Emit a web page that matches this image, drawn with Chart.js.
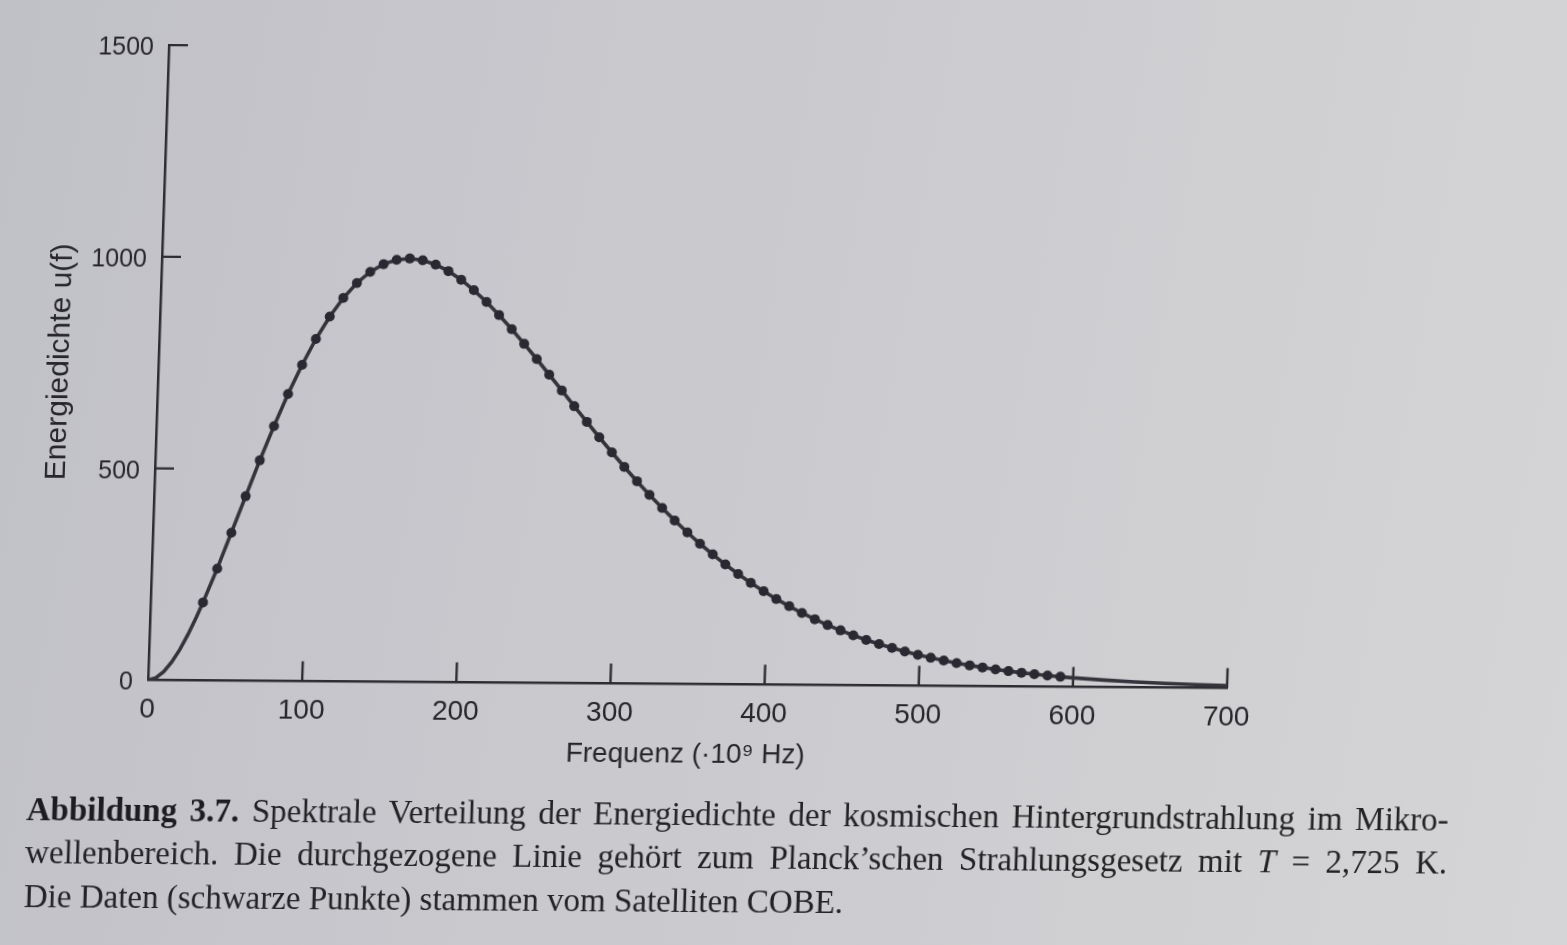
<!DOCTYPE html>
<html>
<head>
<meta charset="utf-8">
<script src="https://cdn.jsdelivr.net/npm/chart.js@4.4.1/dist/chart.umd.min.js"></script>
<style>
html,body{margin:0;padding:0;width:1567px;height:945px;overflow:hidden;
  background:linear-gradient(100deg,#c0c0c7 0%,#c8c8cd 35%,#d0cfd2 75%,#d5d4d6 100%);}
#page{position:absolute;left:0;top:0;width:1567px;height:945px;
  transform-origin:148px 680.4px;transform:matrix(1,0.0074,-0.033,1,0,0);}
#chartBox{position:absolute;left:0;top:0;width:1567px;height:790px;}
#caption{position:absolute;left:31px;top:788.7px;width:1422px;
  font-family:'Liberation Serif','Times New Roman',serif;font-size:33px;line-height:43.5px;color:#232326;}
#caption .just{text-align:justify;text-align-last:justify;}
#caption b{font-weight:bold;color:#1d1d21;}
</style>
</head>
<body>
<div id="page">
  <div id="chartBox"><canvas id="c" width="1567" height="790"></canvas></div>
  <div id="caption">
    <div class="just"><b>Abbildung 3.7.</b> Spektrale Verteilung der Energiedichte der kosmischen Hintergrundstrahlung im Mikro-</div>
    <div class="just">wellenbereich. Die durchgezogene Linie gehört zum Planck’schen Strahlungsgesetz mit <i>T</i> = 2,725 K.</div>
    <div>Die Daten (schwarze Punkte) stammen vom Satelliten COBE.</div>
  </div>
</div>
<script>
// ---- data ----
const freqDots = [34.0,42.5,50.9,59.4,67.8,76.3,84.7,93.2,101.6,110.1,118.5,127.0,135.4,143.9,152.3,160.8,169.2,177.7,186.1,194.6,
  203.0,211.5,219.9,228.4,236.8,245.3,253.7,262.2,270.6,279.1,287.5,296.0,304.4,312.9,321.3,329.8,338.2,346.7,355.1,363.6,
  372.0,380.5,388.9,397.4,405.8,414.3,422.7,431.2,439.6,448.1,456.5,465.0,473.4,481.9,490.3,498.8,507.2,515.7,524.1,532.6,
  541.0,549.5,557.9,566.4,574.8,583.3,591.7];
const energyDots = [184.2,264.4,349.3,435.7,520.7,602.0,677.9,747.1,808.4,861.4,905.7,941.2,968.0,986.4,996.9,1000.0,996.3,986.3,971.0,950.8,
  926.4,898.7,868.0,835.1,800.5,764.7,728.1,691.1,654.1,617.4,581.2,545.9,511.4,478.1,446.1,415.3,386.0,358.0,331.5,306.5,
  282.9,260.7,239.9,220.5,202.4,185.5,169.8,155.3,141.8,129.4,117.9,107.3,97.6,88.7,80.5,73.0,66.2,59.9,54.2,49.0,
  44.3,40.0,36.1,32.5,29.3,26.4,23.7];
const freqCurveStart = [0,5,10,15,20,25,30];
const energyCurveStart = [0,5.2,20.0,42.9,72.8,108.6,149.1];
const freqCurveEnd = [600,620,640,660,680,700];
const energyCurveEnd = [21.4,16.6,12.8,9.9,7.6,5.8];
const xTickMarks = [100,200,300,400,500,600,700];
const yTickMarks = [500,1000,1500];
const xTitle = 'Frequenz (·10⁹ Hz)';
const yTitle = 'Energiedichte u(f)';

// ---- styling ----
const INK = '#26262b';
const AXIS = '#2c2c31';
const LINE = '#35343b';
const DOT = '#2a2932';
const SANS = "'Liberation Sans', Arial, Helvetica, sans-serif";

const freqCurve = freqCurveStart.concat(freqDots, freqCurveEnd);
const energyCurve = energyCurveStart.concat(energyDots, energyCurveEnd);

const inwardTicks = {
  id: 'inwardTicks',
  beforeDatasetsDraw(chart) {
    const {ctx, scales: {x, y}} = chart;
    const x0 = x.getPixelForValue(0), y0 = y.getPixelForValue(0);
    ctx.save();
    ctx.strokeStyle = AXIS;
    ctx.lineWidth = 2.4;
    ctx.beginPath();
    xTickMarks.forEach(v => { const px = x.getPixelForValue(v); ctx.moveTo(px, y0); ctx.lineTo(px, y0 - 20); });
    yTickMarks.forEach(v => { const py = y.getPixelForValue(v); ctx.moveTo(x0, py); ctx.lineTo(x0 + 19, py); });
    ctx.stroke();
    ctx.restore();
  }
};

new Chart(document.getElementById('c'), {
  type: 'scatter',
  data: {
    datasets: [
      {
        data: freqCurve.map((f, i) => ({x: f, y: energyCurve[i]})),
        showLine: true, borderColor: LINE, borderWidth: 3.6, pointRadius: 0,
        tension: 0, fill: false, order: 2
      },
      {
        data: freqDots.map((f, i) => ({x: f, y: energyDots[i]})),
        showLine: false, pointRadius: 5, pointBackgroundColor: DOT,
        pointBorderWidth: 0, order: 1
      }
    ]
  },
  options: {
    responsive: false, animation: false, events: [],
    layout: {padding: {top: 45.1, right: 340, bottom: 9.6, left: 0}},
    plugins: {legend: {display: false}, tooltip: {enabled: false}},
    scales: {
      x: {
        type: 'linear', min: 0, max: 700,
        afterFit(s) { s.height = 100; },
        ticks: {stepSize: 100, padding: 13, color: INK, font: {family: SANS, size: 28}, maxRotation: 0, autoSkip: false,
                callback: v => String(v)},
        grid: {display: true, drawOnChartArea: false, drawTicks: false},
        border: {display: true, color: AXIS, width: 2.5},
        title: {display: true, text: xTitle, color: INK, font: {family: SANS, size: 28}, padding: {top: 0, bottom: 12.6}}
      },
      y: {
        type: 'linear', min: 0, max: 1500,
        afterFit(s) { s.width = 148; },
        ticks: {stepSize: 500, padding: 15, labelOffset: 3, color: INK, font: {family: SANS, size: 25},
                callback: v => String(v)},
        grid: {display: true, drawOnChartArea: false, drawTicks: false},
        border: {display: true, color: AXIS, width: 2.5},
        title: {display: true, text: yTitle, color: INK, font: {family: SANS, size: 30}, padding: {top: 32, bottom: 0}}
      }
    }
  },
  plugins: [inwardTicks]
});
</script>
</body>
</html>
